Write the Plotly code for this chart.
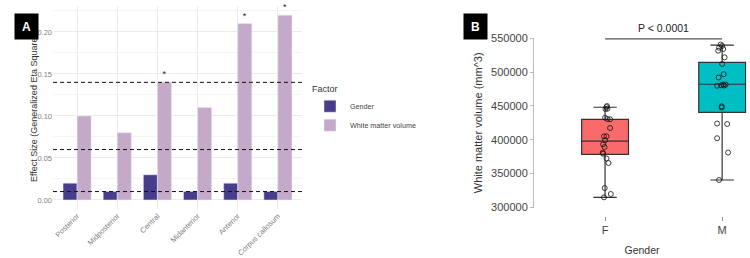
import plotly.graph_objects as go

# ---------------- Panel A data ----------------
categories = ["Posterior", "Midposterior", "Central", "Midanterior", "Anterior", "Corpus callosum"]
gender_eta = [0.02, 0.01, 0.03, 0.01, 0.02, 0.01]
wmv_eta = [0.10, 0.08, 0.14, 0.11, 0.21, 0.22]
wmv_significant = ["", "", "*", "", "*", "*"]
thresholds = [0.01, 0.06, 0.14]

# ---------------- Panel B data ----------------
groups = ["F", "M"]
box_lower = [314800, 340400]
box_q1 = [378400, 440500]
box_median = [398000, 482000]
box_q3 = [430000, 514500]
box_upper = [448000, 540000]

f_values = [449800, 448300, 445800, 445400, 432500, 430600, 430200, 417300, 405000, 405000,
            399100, 393200, 389200, 380800, 379300, 372200, 365500, 328500, 319700, 314800]
f_jitter = [0.017, 0.012, 0.020, 0.003, 0.000, 0.020, 0.043, 0.043, -0.009, 0.012,
            0.000, -0.017, -0.005, -0.020, -0.017, 0.012, 0.029, -0.003, 0.049, -0.009]
m_values = [540800, 538600, 536100, 534100, 531600, 521800, 512000, 496900, 492000, 479800,
            480400, 481600, 481600, 480100, 449400, 447600, 423900, 423200, 402200, 381000, 340400]
m_jitter = [-0.013, 0.000, -0.026, 0.009, -0.034, 0.021, 0.000, 0.013, -0.030, -0.043,
            -0.009, 0.009, 0.030, 0.017, -0.004, -0.004, -0.043, 0.043, -0.043, 0.051, -0.026]
p_label = "P < 0.0001"
p_bracket_y = 549000

fill_colors = ["#F96B6B", "#00BFC4"]

fig = go.Figure()

# ---- Panel A bars ----
fig.add_trace(go.Bar(x=categories, y=gender_eta, name="Gender", marker_color="#483D8B",
                     xaxis="x", yaxis="y"))
fig.add_trace(go.Bar(x=categories, y=wmv_eta, name="White matter volume", marker_color="#C5A9C9",
                     text=wmv_significant, textposition="outside", cliponaxis=False,
                     textfont=dict(size=9, color="#222"), xaxis="x", yaxis="y"))

for t in thresholds:
    fig.add_shape(type="line", xref="x domain", yref="y", x0=0, x1=1, y0=t, y1=t,
                  line=dict(color="#111", width=1, dash="4px,3px"))

# Y title of panel A
fig.add_annotation(x=27 / 750, y=1 - 106 / 258, xref="paper", yref="paper",
                   text="Effect Size (Generalized Eta Squared)", textangle=-90, showarrow=False,
                   font=dict(family="Liberation Sans", size=9, color="#333"))

# ---- Panel B boxes ----
for i, g in enumerate(groups):
    fig.add_trace(go.Box(x=[i], q1=[box_q1[i]], median=[box_median[i]], q3=[box_q3[i]],
                         lowerfence=[box_lower[i]], upperfence=[box_upper[i]],
                         width=0.4, whiskerwidth=0.5, fillcolor=fill_colors[i],
                         line=dict(color="#333", width=1.2), boxpoints=False,
                         showlegend=False, xaxis="x2", yaxis="y2"))

for i, (vals, jit) in enumerate([(f_values, f_jitter), (m_values, m_jitter)]):
    fig.add_trace(go.Scatter(x=[i + j for j in jit], y=vals, mode="markers",
                             marker=dict(symbol="circle-open", size=5, color="#111",
                                         line=dict(width=0.8, color="#111")),
                             showlegend=False, xaxis="x2", yaxis="y2"))

fig.add_shape(type="line", xref="x2", yref="y2", x0=0, x1=1, y0=p_bracket_y, y1=p_bracket_y,
              line=dict(color="#555", width=1.2))
fig.add_annotation(x=0.5, y=p_bracket_y, xref="x2", yref="y2", text=p_label, showarrow=False,
                   yshift=11, font=dict(family="Liberation Sans", size=10.5, color="#222"))

# Panel labels
for lab, xpx in [("A", 14), ("B", 475.5)]:
    fig.add_annotation(x=xpx / 750, y=1 - 13 / 258, xref="paper", yref="paper", text="<b>%s</b>" % lab,
                       showarrow=False, bgcolor="#000", width=21, height=23,
                       font=dict(family="Liberation Sans", size=12, color="white"))

fig.update_layout(
    width=750, height=258, margin=dict(l=0, r=0, t=0, b=0, autoexpand=False),
    paper_bgcolor="white", plot_bgcolor="white",
    font=dict(family="Liberation Sans"),
    barmode="group", bargap=0.3, bargroupgap=0,
    xaxis=dict(domain=[53 / 750, 302 / 750], range=[-0.6, 5.6], tickangle=-45, automargin=False,
               tickfont=dict(size=7.5, color="#808080"), showgrid=True, gridcolor="#EBEBEB",
               gridwidth=1, zeroline=False, showline=False, ticks="", anchor="y"),
    yaxis=dict(domain=[1 - 209.2 / 258, 1 - 5.9 / 258], range=[-0.011, 0.231], dtick=0.05,
               tickformat=".2f", tickfont=dict(size=7.5, color="#808080"), showgrid=True,
               gridcolor="#EBEBEB", zeroline=False, showline=False, ticks="", automargin=False,
               minor=dict(dtick=0.025, showgrid=True, gridcolor="#F5F5F5", gridwidth=0.5),
               anchor="x"),
    xaxis2=dict(domain=[534 / 750, 1.0], range=[-0.607, 1.238], tickvals=[0, 1], ticktext=groups,
                showgrid=False, zeroline=False, showline=False, ticks="outside", ticklen=4,
                tickcolor="#999", anchor="free", position=1 - 216 / 258, automargin=False,
                tickfont=dict(size=11, color="#444"),
                title=dict(text="Gender", standoff=11, font=dict(size=10.5, color="#333"))),
    yaxis2=dict(domain=[1 - 208 / 258, 1 - 37.6 / 258], range=[299000, 551000], dtick=50000,
                tickformat="d", showgrid=False, zeroline=False, showline=True, linecolor="#BBB",
                ticks="outside", ticklen=3, tickcolor="#BBB", tickfont=dict(size=11, color="#444"),
                automargin=False,
                title=dict(text="White matter volume (mm^3)", standoff=6, font=dict(size=11, color="#333")),
                anchor="x2"),
    legend=dict(x=310 / 750, y=1 - 80 / 258, xanchor="left", yanchor="top", itemwidth=30,
                title=dict(text="Factor", font=dict(size=9, color="#333")),
                font=dict(size=7.2, color="#444"), bgcolor="rgba(0,0,0,0)"),
)

fig.write_html("out.html")
